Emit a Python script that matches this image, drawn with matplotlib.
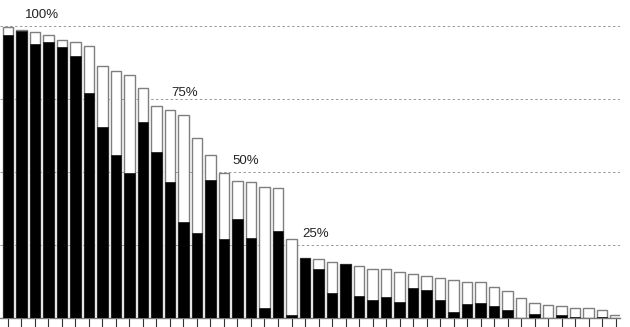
import numpy as np
import matplotlib.pyplot as plt

# valores (porcentaje)
total = [99.5, 98.8, 97.9, 96.8, 95.1, 94.7, 93.1, 86.2, 84.5, 83.4,
         78.7, 72.8, 71.2, 69.5, 61.7, 55.8, 49.6, 47.1, 46.7, 44.9,
         44.5, 27.1, 20.8, 20.3, 19.1, 18.6, 18.0, 16.9, 16.9, 15.8,
         15.2, 14.6, 13.8, 13.0, 12.5, 12.3, 10.7, 9.5, 6.9, 5.1,
         4.7, 4.2, 3.6, 3.6, 3.0, 1.0]
parcial = [97.0, 98.4, 93.8, 94.7, 92.7, 89.9, 77.1, 65.4, 55.9, 49.7,
           67.1, 56.8, 46.8, 32.8, 29.2, 47.2, 27.1, 33.9, 27.6, 3.6,
           29.7, 1.1, 20.8, 16.9, 8.8, 18.6, 7.8, 6.1, 7.3, 5.6,
           10.5, 9.6, 6.1, 2.0, 4.8, 5.1, 4.3, 3.0, 0.0, 1.5,
           0.0, 1.0, 0.3, 0.0, 0.3, 0.0]

niveles = [100, 75, 50, 25]
etiquetas = ["100%", "75%", "50%", "25%"]
x_etiquetas = [2.5, 13.1, 17.6, 22.8]
y_etiquetas = [102.8, 76.1, 52.8, 27.8]

x = np.arange(len(total))

fig = plt.figure(figsize=(6.3, 3.27), dpi=100)
ax = fig.add_axes([0, 8.7 / 327, 620 / 630, 318.3 / 327])

for n in niveles:
    ax.axhline(n, color='#999999', linestyle=(0, (2.5, 2.5)), linewidth=0.7, zorder=0)

ax.bar(x, total, width=0.78, color='white', edgecolor='#7f7f7f', linewidth=1.0, zorder=2)
ax.bar(x, parcial, width=0.78, color='black', edgecolor='#222222', linewidth=0.6, zorder=3)

for et, px, py in zip(etiquetas, x_etiquetas, y_etiquetas):
    ax.text(px, py, et, ha='center', va='baseline', fontsize=9.5,
            color='#222222', family='Liberation Sans', zorder=4)

ax.set_xlim(-0.59, 45.33)
ax.set_ylim(0, 108.9)
for s in ['top', 'right', 'left']:
    ax.spines[s].set_visible(False)
ax.spines['bottom'].set_color('#777777')
ax.spines['bottom'].set_linewidth(1.0)
ax.set_xticks(x)
ax.set_xticklabels([])
ax.tick_params(axis='x', length=8, width=0.8, color='#333333')
ax.set_yticks([])

plt.savefig('out.png', dpi=100)
